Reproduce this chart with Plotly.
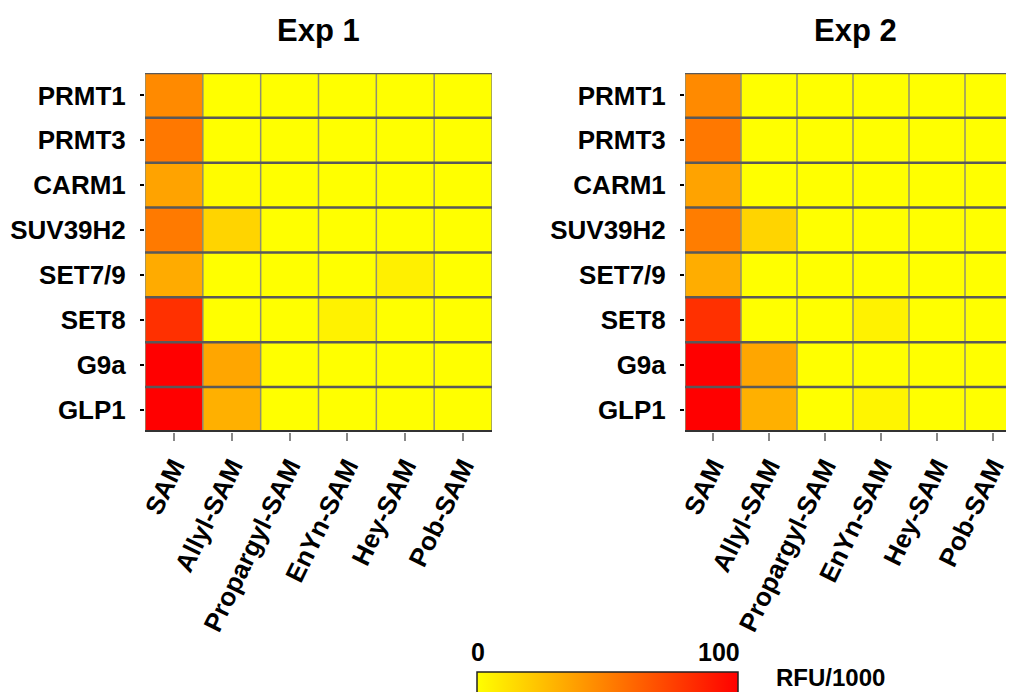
import plotly.graph_objects as go

enzymes = ["PRMT1", "PRMT3", "CARM1", "SUV39H2", "SET7/9", "SET8", "G9a", "GLP1"]
compounds = ["SAM", "Allyl-SAM", "Propargyl-SAM", "EnYn-SAM", "Hey-SAM", "Pob-SAM"]
titles = ["Exp 1", "Exp 2"]

exp1 = [
    [46, 0, 0, 0, 0, 0],
    [53, 0, 0, 0, 0, 0],
    [36, 1, 0, 0, 0, 0],
    [52, 17, 0, 0, 0, 0],
    [33, 0, 0, 0, 6, 0],
    [81, 0, 0, 5, 0, 0],
    [100, 35, 0, 0, 0, 0],
    [100, 31, 0, 0, 0, 0],
]
exp2 = [
    [46, 0, 0, 0, 0, 0],
    [53, 0, 0, 0, 0, 0],
    [36, 0, 0, 0, 0, 0],
    [51, 17, 0, 0, 0, 0],
    [32, 0, 0, 0, 0, 0],
    [81, 0, 0, 5, 0, 0],
    [100, 35, 0, 0, 0, 0],
    [100, 31, 0, 4, 0, 0],
]
cmin, cmax = 0, 100
cbar_title = "RFU/1000"

# page body has an 8px margin; work in reference pixels and shift
OFF = 8
W, H = 1014 - OFF, 692 - OFF
FONT = "Liberation Sans, Arial, sans-serif"

def px(x):
    return (x - OFF) / W

def py(y):
    return 1 - (y - OFF) / H

cell_w1 = 347 / 6
cell_w2 = 56.0
x_doms = [[px(145), px(492)], [px(685), 1.0]]
x_ranges = [[-0.5, 5.5], [-0.5, -0.5 + (1014 - 685) / cell_w2]]
y_dom = [py(432), py(73)]

fig = go.Figure()
shapes = []
for i, (z, xd, xr) in enumerate(zip([exp1, exp2], x_doms, x_ranges)):
    ax = "" if i == 0 else str(i + 1)
    fig.add_trace(go.Heatmap(
        z=z, x=compounds, y=enzymes, coloraxis="coloraxis",
        xaxis="x" + ax, yaxis="y" + ax,
        hovertemplate="%{y} / %{x}: %{z}<extra></extra>",
    ))
    xref, yref = "x" + ax, "y" + ax
    n_r, n_c = len(enzymes), len(compounds)
    for c in range(n_c + 1):
        shapes.append(dict(type="line", xref=xref, yref=yref,
                           x0=c - 0.5, x1=c - 0.5, y0=-0.5, y1=n_r - 0.5,
                           line=dict(color="#8f8f70", width=1.5)))
    for r in range(n_r):
        shapes.append(dict(type="line", xref=xref, yref=yref,
                           x0=-0.5, x1=n_c - 0.5, y0=r - 0.5, y1=r - 0.5,
                           line=dict(color="#595959", width=2.5)))
    shapes.append(dict(type="line", xref=xref, yref=yref,
                       x0=-0.5, x1=n_c - 0.5, y0=n_r - 0.5, y1=n_r - 0.5,
                       line=dict(color="#333333", width=4)))
    fig.layout["xaxis" + ax] = dict(
        domain=xd, range=xr, anchor="y" + ax, ticks="outside", ticklen=8,
        tickwidth=1.5, tickcolor="#888888", tickangle=-64, showgrid=False,
        zeroline=False, showline=False, fixedrange=True,
        tickfont=dict(family=FONT, size=26, color="black", weight="bold"),
    )
    fig.layout["yaxis" + ax] = dict(
        domain=y_dom, range=[n_r - 0.5, -0.5], anchor="x" + ax, ticks="outside",
        ticklen=4, tickwidth=2, tickcolor="black", showgrid=False,
        zeroline=False, showline=False, ticklabelstandoff=9, fixedrange=True,
        tickfont=dict(family=FONT, size=26, color="black", weight="bold"),
    )

annotations = [
    dict(text=titles[0], x=px(318), y=py(30), xref="paper", yref="paper",
         xanchor="center", yanchor="middle", showarrow=False,
         font=dict(family=FONT, size=31, color="black", weight="bold")),
    dict(text=titles[1], x=px(855), y=py(30), xref="paper", yref="paper",
         xanchor="center", yanchor="middle", showarrow=False,
         font=dict(family=FONT, size=31, color="black", weight="bold")),
    dict(text=str(cmin), x=px(469), y=py(668), xref="paper", yref="paper",
         xanchor="left", yanchor="bottom", showarrow=False,
         font=dict(family=FONT, size=25, color="black", weight="bold")),
    dict(text=str(cmax), x=px(742), y=py(668), xref="paper", yref="paper",
         xanchor="right", yanchor="bottom", showarrow=False,
         font=dict(family=FONT, size=25, color="black", weight="bold")),
    dict(text=cbar_title, x=px(774), y=py(677), xref="paper", yref="paper",
         xanchor="left", yanchor="middle", showarrow=False,
         font=dict(family=FONT, size=24, color="black", weight="bold")),
]

fig.update_layout(
    width=W, height=H,
    margin=dict(l=0, r=0, t=0, b=0, autoexpand=False),
    paper_bgcolor="white", plot_bgcolor="white",
    shapes=shapes, annotations=annotations,
    coloraxis=dict(
        cmin=cmin, cmax=cmax,
        colorscale=[[0, "#ffff00"], [1, "#ff0000"]],
        colorbar=dict(
            orientation="h", len=261, lenmode="pixels", thickness=30,
            thicknessmode="pixels", x=px(607.5), xanchor="center",
            y=py(671.5), yanchor="top", outlinecolor="#222222", outlinewidth=1.5,
            showticklabels=False, ticks="", xpad=0, ypad=0,
        ),
    ),
    font=dict(family=FONT),
)

fig.write_html("out.html")
